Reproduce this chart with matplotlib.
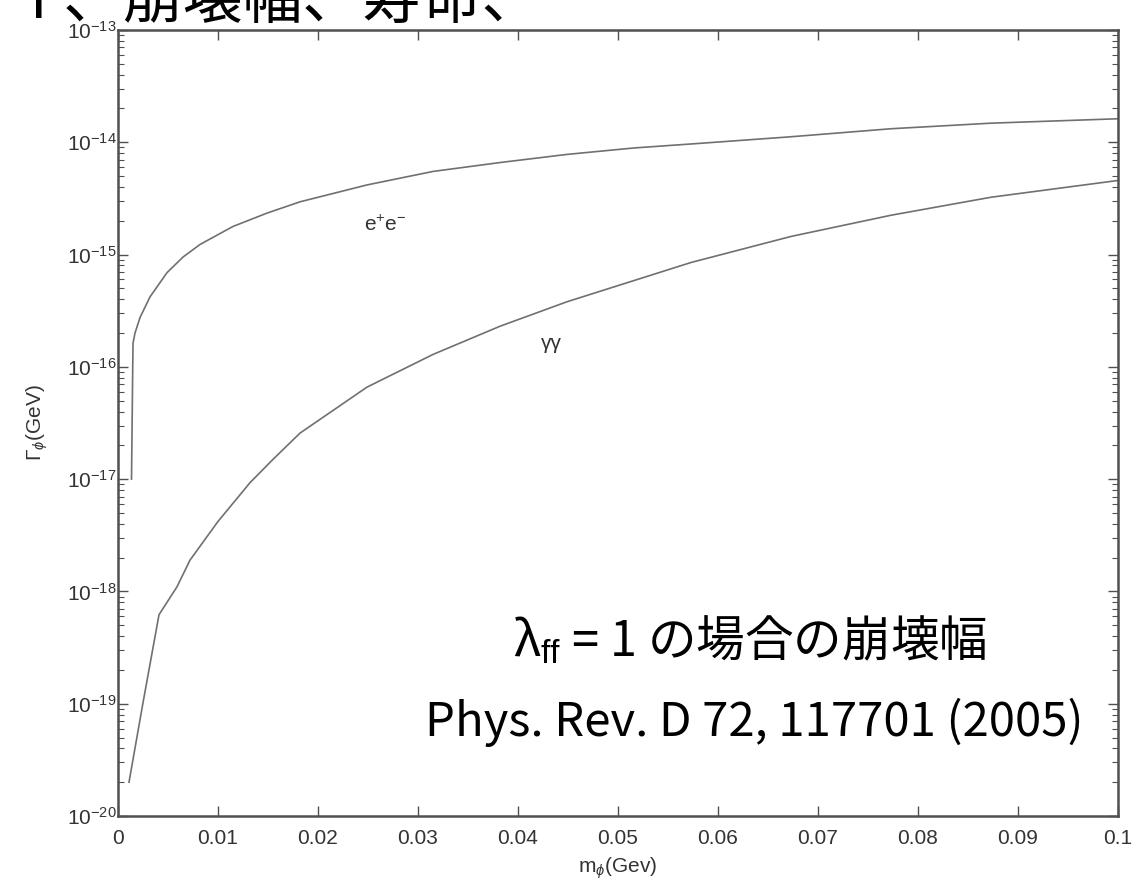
import matplotlib
matplotlib.use('Agg')
import matplotlib.pyplot as plt
from matplotlib.ticker import LogLocator, FixedLocator

# Data (Phys. Rev. D 72, 117701)
ee_mass = [0.00135, 0.0015, 0.0017, 0.0022, 0.0032, 0.0049, 0.0065, 0.0082, 0.0115,
           0.0149, 0.0182, 0.0249, 0.0315, 0.0382, 0.0449, 0.0516, 0.0583, 0.0673,
           0.0773, 0.0873, 0.1]
ee_width = [1.0e-17, 1.62e-16, 2.0e-16, 2.75e-16, 4.2e-16, 6.9e-16, 9.5e-16, 1.23e-15,
            1.78e-15, 2.34e-15, 2.95e-15, 4.17e-15, 5.5e-15, 6.6e-15, 7.8e-15, 8.9e-15,
            9.8e-15, 1.12e-14, 1.32e-14, 1.48e-14, 1.62e-14]

gg_mass = [0.0011, 0.0025, 0.0041, 0.0059, 0.0072, 0.0100, 0.0132, 0.0155, 0.0182,
           0.0249, 0.0315, 0.0382, 0.0449, 0.0573, 0.0673, 0.0773, 0.0873, 0.1]
gg_width = [2.0e-20, 1.02e-19, 6.2e-19, 1.1e-18, 1.9e-18, 4.2e-18, 9.3e-18, 1.5e-17,
            2.57e-17, 6.6e-17, 1.29e-16, 2.3e-16, 3.8e-16, 8.5e-16, 1.45e-15, 2.24e-15,
            3.24e-15, 4.57e-15]

x_ticks = [0, 0.01, 0.02, 0.03, 0.04, 0.05, 0.06, 0.07, 0.08, 0.09, 0.1]
x_ticklabels = ['0', '0.01', '0.02', '0.03', '0.04', '0.05', '0.06', '0.07', '0.08', '0.09', '0.1']

plt.rcParams['mathtext.fontset'] = 'custom'
plt.rcParams['mathtext.rm'] = 'Liberation Sans'
plt.rcParams['mathtext.it'] = 'Liberation Sans:italic'
plt.rcParams['font.family'] = ['Liberation Sans', 'DejaVu Sans']

fig = plt.figure(figsize=(11.4, 8.84), dpi=100)
ax = fig.add_axes([118/1140, 1 - 816/884, 1000/1140, 786/884])

line_col = '#707070'
ax.plot(ee_mass, ee_width, color=line_col, lw=1.2)
ax.plot(gg_mass, gg_width, color=line_col, lw=1.2)

ax.set_yscale('log')
ax.set_xlim(0, 0.1)
ax.set_ylim(1e-20, 1e-13)
ax.xaxis.set_major_locator(FixedLocator(x_ticks))
ax.set_xticklabels(x_ticklabels)
ax.yaxis.set_major_locator(LogLocator(base=10, numticks=10))
ax.yaxis.set_minor_locator(LogLocator(base=10, subs=range(2, 10), numticks=20))

frame_col = '#505050'
txt_col = '#333333'
for s in ax.spines.values():
    s.set_color(frame_col)
    s.set_linewidth(1.8)
ax.tick_params(which='both', direction='in', top=True, right=True,
               color=frame_col, labelcolor=txt_col, labelsize=15)
ax.tick_params(which='major', length=7, width=1.0)
ax.tick_params(which='minor', length=4, width=0.8)
ax.tick_params(axis='y', pad=1)
ax.tick_params(axis='x', pad=9)

ax.set_xlabel(r'm$_\phi$(Gev)', fontsize=15, color=txt_col, labelpad=6)
ax.set_ylabel(r'$\Gamma_\phi$(GeV)', fontsize=15, color=txt_col, labelpad=12)

# curve labels
ax.text(0.0267, 1.84e-15, r'e$^{+}$e$^{-}$', fontsize=15, color=txt_col,
        ha='center', va='center')
ax.text(0.0433, 1.63e-16, 'γγ', fontsize=15, color=txt_col,
        ha='center', va='center')

# slide annotations
cjk = ['Noto Sans CJK JP', 'DejaVu Sans']
fig.text(0.026, 1 - 18/884, 'Γ、崩壊幅、寿命、', fontsize=43, family=cjk,
         ha='left', va='baseline')
fig.text(750/1140, 1 - 641/884, r'λ$_{\mathrm{ff}}$ = 1 の場合の崩壊幅', fontsize=35,
         family=cjk, ha='center', va='center')
fig.text(754/1140, 1 - 722/884, 'Phys. Rev. D 72, 117701 (2005)', fontsize=34,
         family=cjk, ha='center', va='center')

fig.savefig('out.png', dpi=100)
